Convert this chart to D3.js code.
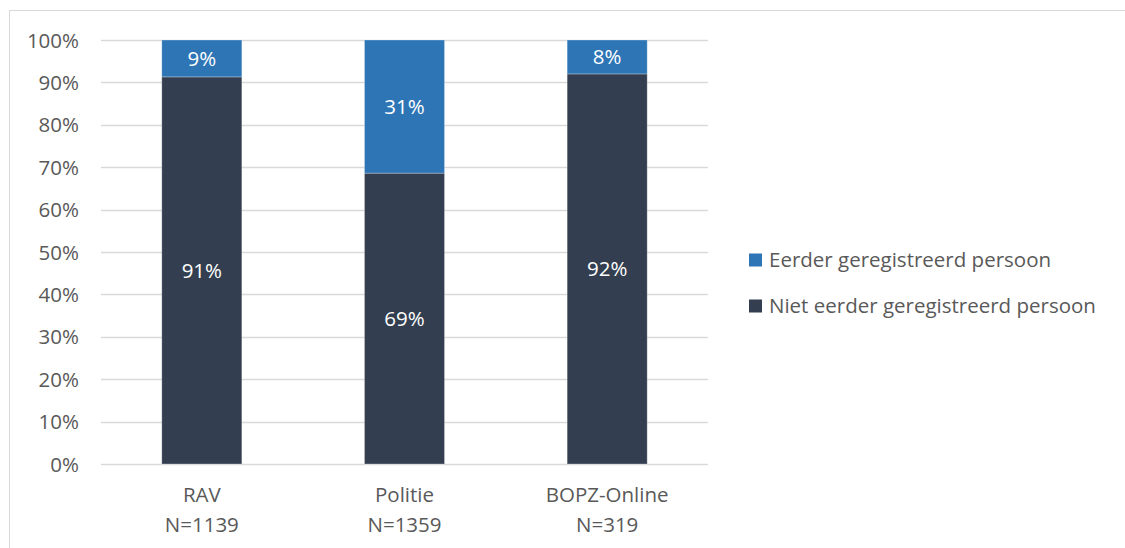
<!DOCTYPE html>
<html>
<head>
<meta charset="utf-8">
<script src="https://cdn.jsdelivr.net/npm/d3@7"></script>
<style>
  body { margin: 0; background: #fff; }
  svg text { font-family: "Open Sans", "Liberation Sans", sans-serif; }
</style>
</head>
<body>
<svg id="chart" width="1125" height="548"></svg>
<script>
// categories & values (percent)
const categories = ['RAV', 'Politie', 'BOPZ-Online'];
const counts     = ['N=1139', 'N=1359', 'N=319'];
const niet       = [91.3, 68.6, 92.0];   // Niet eerder geregistreerd persoon
const eerder     = [8.7, 31.4, 8.0];     // Eerder geregistreerd persoon
const yTicks     = [0, 10, 20, 30, 40, 50, 60, 70, 80, 90, 100];

const seriesNames  = ['Eerder geregistreerd persoon', 'Niet eerder geregistreerd persoon'];
const seriesColors = ['#2e75b6', '#333f50'];

const svg = d3.select('#chart');
const textCol = '#595959';
const fs = '20.5px';

// outer chart border (top + left visible)
svg.append('rect')
  .attr('x', 9.5).attr('y', 10.5)
  .attr('width', 1200).attr('height', 600)
  .attr('fill', 'none').attr('stroke', '#d9d9d9').attr('stroke-width', 1);

const plot = { left: 101, right: 708, top: 40, bottom: 464 };

const x = d3.scaleBand().domain(categories).range([plot.left, plot.right]).paddingInner(0.605).paddingOuter(0.3);
const y = d3.scaleLinear().domain([0, 100]).range([plot.bottom, plot.top]);

// gridlines
svg.append('g').selectAll('line').data(yTicks).enter().append('line')
  .attr('x1', plot.left).attr('x2', plot.right)
  .attr('y1', d => Math.round(y(d)) + 0.5).attr('y2', d => Math.round(y(d)) + 0.5)
  .attr('stroke', '#d9d9d9').attr('stroke-width', 1.5);

// y labels
svg.append('g').selectAll('text').data(yTicks).enter().append('text')
  .attr('x', 79).attr('y', d => y(d) + 7.5)
  .attr('text-anchor', 'end')
  .style('fill', textCol).style('font-size', fs)
  .text(d => d + '%');

// stacked data
const rows = categories.map((c, i) => ({ cat: c, niet: niet[i], eerder: eerder[i] }));
const stack = d3.stack().keys(['niet', 'eerder'])(rows);
const colorOf = { niet: seriesColors[1], eerder: seriesColors[0] };

const bars = svg.append('g');
stack.forEach(layer => {
  bars.selectAll(null).data(layer).enter().append('rect')
    .attr('x', d => x(d.data.cat))
    .attr('width', x.bandwidth())
    .attr('y', d => y(d[1]))
    .attr('height', d => y(d[0]) - y(d[1]))
    .attr('fill', colorOf[layer.key])
    .attr('stroke', '#ffffff').attr('stroke-opacity', 0.35).attr('stroke-width', 0.8);

  bars.selectAll(null).data(layer).enter().append('text')
    .attr('x', d => x(d.data.cat) + x.bandwidth() / 2)
    .attr('y', d => (y(d[0]) + y(d[1])) / 2 + 7.5)
    .attr('text-anchor', 'middle')
    .style('fill', '#ffffff').style('font-size', fs)
    .text(d => Math.round(d[1] - d[0]) + '%');
});

// x labels
const xl = svg.append('g');
categories.forEach((c, i) => {
  const cx = x(c) + x.bandwidth() / 2;
  xl.append('text').attr('x', cx).attr('y', 502).attr('text-anchor', 'middle')
    .style('fill', textCol).style('font-size', fs).text(c);
  xl.append('text').attr('x', cx).attr('y', 532).attr('text-anchor', 'middle')
    .style('fill', textCol).style('font-size', fs).text(counts[i]);
});

// legend
const lg = svg.append('g');
seriesNames.forEach((n, i) => {
  const ly = 253.5 + i * 46;
  lg.append('rect').attr('x', 749).attr('y', ly).attr('width', 13).attr('height', 13).attr('fill', seriesColors[i]);
  lg.append('text').attr('x', 769).attr('y', ly + 13)
    .style('fill', textCol).style('font-size', fs).text(n);
});
</script>
</body>
</html>
